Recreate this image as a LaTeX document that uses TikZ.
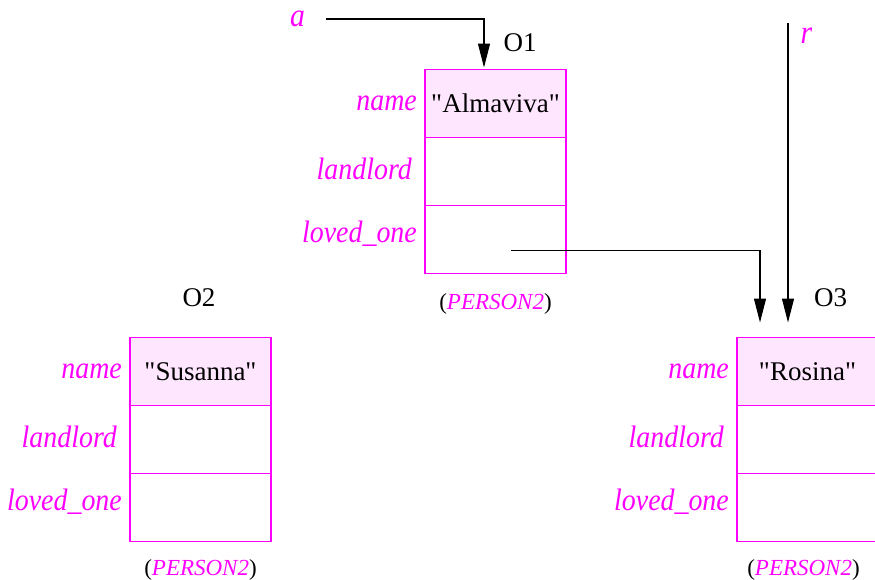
\documentclass[tikz,border=0pt]{standalone}
\usepackage{fontspec}
\setmainfont{Liberation Serif}
\newfontface\fldfont[FakeStretch=0.9]{Liberation Serif Italic}
\usetikzlibrary{arrows.meta,positioning}
\definecolor{fldmag}{RGB}{255,0,255}
\definecolor{fldpink}{RGB}{255,230,255}
\newcommand{\qt}[1]{\textquotedbl#1\textquotedbl}

\begin{document}
\begin{tikzpicture}[
  x=1pt, y=-1pt,
  font=\fontsize{27}{32}\selectfont,
  cell/.style={draw=fldmag, line width=1.1pt, minimum width=141pt, minimum height=68pt, inner sep=0pt, outer sep=0pt},
  namecell/.style={cell, fill=fldpink},
  fld/.style={text=fldmag, font=\fontsize{31}{37}\fldfont, inner sep=0pt},
  cls/.style={font=\fontsize{23}{27}\selectfont, inner sep=0pt, anchor=base},
  objlbl/.style={inner sep=0pt, anchor=base},
  var/.style={text=fldmag, font=\fontsize{33}{39}\fldfont, inner sep=0pt, anchor=base},
  ref/.style={-{Triangle[length=24pt,width=12pt]}, line width=1.1pt},
]
\useasboundingbox (0,0) rectangle (875,579);
% object O1
\node[namecell] (o1name) at (495.5,103.5) {\qt{Almaviva}};
\node[cell, below=0pt of o1name] (o1land) {};
\node[cell, below=0pt of o1land] (o1love) {};
\node[fld, left=8pt of o1name.west, anchor=base east, yshift=-7pt] (o1namef) {name};
\node[fld, left=13pt of o1land.west, anchor=base east, yshift=-7.5pt] (o1landf) {landlord};
\node[fld, left=8pt of o1love.west, anchor=base east, yshift=-3pt] (o1lovef) {loved\_one};
\node[cls] (o1cls) at ([yshift=-36pt]o1love.south) {(\textcolor{fldmag}{\itshape PERSON2})};
\node[objlbl] (o1lbl) at ([xshift=24.5pt,yshift=18pt]o1name.north) {O1};
% object O2
\node[namecell] (o2name) at (200.5,371.5) {\qt{Susanna}};
\node[cell, below=0pt of o2name] (o2land) {};
\node[cell, below=0pt of o2land] (o2love) {};
\node[fld, left=8pt of o2name.west, anchor=base east, yshift=-7pt] (o2namef) {name};
\node[fld, left=13pt of o2land.west, anchor=base east, yshift=-7.5pt] (o2landf) {landlord};
\node[fld, left=8pt of o2love.west, anchor=base east, yshift=-3pt] (o2lovef) {loved\_one};
\node[cls] (o2cls) at ([yshift=-34pt]o2love.south) {(\textcolor{fldmag}{\itshape PERSON2})};
\node[objlbl] (o2lbl) at ([xshift=-1.5pt,yshift=31pt]o2name.north) {O2};
% object O3
\node[namecell] (o3name) at (807.5,371.5) {\qt{Rosina}};
\node[cell, below=0pt of o3name] (o3land) {};
\node[cell, below=0pt of o3land] (o3love) {};
\node[fld, left=8pt of o3name.west, anchor=base east, yshift=-7pt] (o3namef) {name};
\node[fld, left=13pt of o3land.west, anchor=base east, yshift=-7.5pt] (o3landf) {landlord};
\node[fld, left=8pt of o3love.west, anchor=base east, yshift=-3pt] (o3lovef) {loved\_one};
\node[cls] (o3cls) at ([xshift=-4pt,yshift=-34pt]o3love.south) {(\textcolor{fldmag}{\itshape PERSON2})};
\node[objlbl] (o3lbl) at ([xshift=23pt,yshift=31pt]o3name.north) {O3};
% variables and references
\node[var] (vara) at (297.5,26) {a};
\node[var] (varr) at (806.5,43) {r};
\coordinate (astart) at ([xshift=21pt,yshift=7pt]vara.base east);
\coordinate (o1in) at ([xshift=-11.5pt,yshift=2pt]o1name.north);
\coordinate (o3inA) at ([xshift=-47.5pt,yshift=15pt]o3name.north);
\coordinate (o3inB) at ([xshift=-19.5pt,yshift=15pt]o3name.north);
\coordinate (rtop) at (788,23);
\coordinate (lovesrc) at ([xshift=15.5pt,yshift=-11pt]o1love.center);
\draw[ref] (astart) -| (o1in);
\draw[ref] (rtop) -- (o3inB);
\draw[ref] (lovesrc) -| (o3inA);
\end{tikzpicture}
\end{document}
